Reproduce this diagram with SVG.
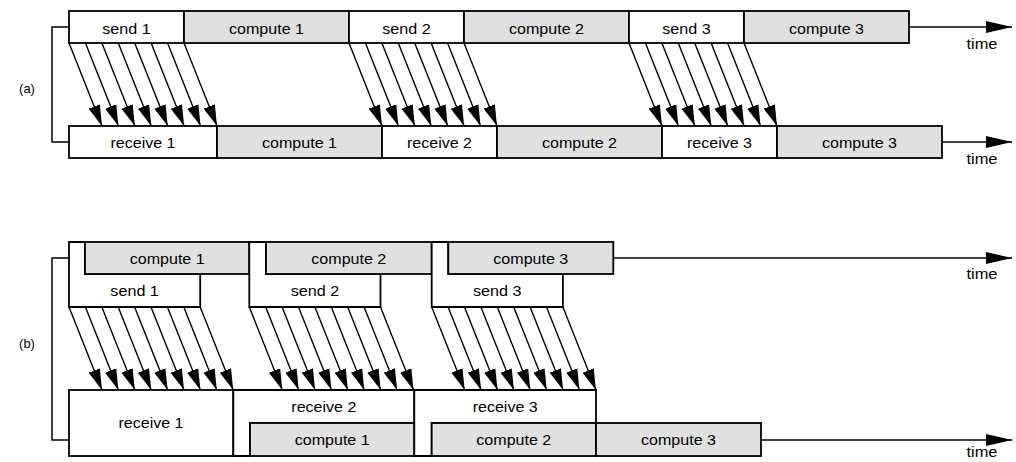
<svg xmlns="http://www.w3.org/2000/svg" width="1016" height="462" viewBox="0 0 1016 462">
<style>
.w{fill:#fff;stroke:#000;stroke-width:1.8}
.g{fill:#e0e0e0;stroke:#000;stroke-width:1.8}
.t{font-family:"Liberation Sans",Arial,sans-serif;font-size:14px;fill:#000;text-anchor:middle}
.lab{font-family:"Liberation Sans",Arial,sans-serif;font-size:13px;fill:#000;text-anchor:middle}
.msg{stroke:#000;stroke-width:1.4;fill:none;marker-end:url(#ah)}
.axis{stroke:#000;stroke-width:1.5;fill:none;marker-end:url(#big)}
.br{stroke:#000;stroke-width:1.5;fill:none}
</style>
<defs>
<marker id="ah" markerUnits="userSpaceOnUse" markerWidth="21" markerHeight="13" refX="21" refY="6.5" orient="auto" viewBox="0 0 21 13"><path d="M0,0.5 L21,6.5 L0,12.5 Z" fill="#000"/></marker>
<marker id="big" markerUnits="userSpaceOnUse" markerWidth="26" markerHeight="12" refX="26" refY="6" orient="auto" viewBox="0 0 26 12"><path d="M0,0 L26,6 L0,12 Z" fill="#000"/></marker>
</defs>
<rect width="1016" height="462" fill="#fff"/>

<!-- Part (a) -->
<text class="lab" x="27" y="93">(a)</text>
<g id="connectors">
<path class="br" d="M69,27 H52 V142 H69"/>
<path class="br" d="M69,258 H52 V440 H69"/>
<line class="axis" x1="909" y1="27" x2="1012" y2="27"/>
<line class="axis" x1="942" y1="142" x2="1012" y2="142"/>
<line class="axis" x1="613" y1="258" x2="1012" y2="258"/>
<line class="axis" x1="761" y1="440" x2="1012" y2="440"/>
<!-- (a) group 1 -->
<line class="msg" x1="69" y1="43" x2="102" y2="126"/>
<line class="msg" x1="85.43" y1="43" x2="118.43" y2="126"/>
<line class="msg" x1="101.86" y1="43" x2="134.86" y2="126"/>
<line class="msg" x1="118.29" y1="43" x2="151.29" y2="126"/>
<line class="msg" x1="134.71" y1="43" x2="167.71" y2="126"/>
<line class="msg" x1="151.14" y1="43" x2="184.14" y2="126"/>
<line class="msg" x1="167.57" y1="43" x2="200.57" y2="126"/>
<line class="msg" x1="184" y1="43" x2="217" y2="126"/>
<!-- (a) group 2 -->
<line class="msg" x1="349" y1="43" x2="382" y2="126"/>
<line class="msg" x1="365.43" y1="43" x2="398.43" y2="126"/>
<line class="msg" x1="381.86" y1="43" x2="414.86" y2="126"/>
<line class="msg" x1="398.29" y1="43" x2="431.29" y2="126"/>
<line class="msg" x1="414.71" y1="43" x2="447.71" y2="126"/>
<line class="msg" x1="431.14" y1="43" x2="464.14" y2="126"/>
<line class="msg" x1="447.57" y1="43" x2="480.57" y2="126"/>
<line class="msg" x1="464" y1="43" x2="497" y2="126"/>
<!-- (a) group 3 -->
<line class="msg" x1="629" y1="43" x2="662" y2="126"/>
<line class="msg" x1="645.43" y1="43" x2="678.43" y2="126"/>
<line class="msg" x1="661.86" y1="43" x2="694.86" y2="126"/>
<line class="msg" x1="678.29" y1="43" x2="711.29" y2="126"/>
<line class="msg" x1="694.71" y1="43" x2="727.71" y2="126"/>
<line class="msg" x1="711.14" y1="43" x2="744.14" y2="126"/>
<line class="msg" x1="727.57" y1="43" x2="760.57" y2="126"/>
<line class="msg" x1="744" y1="43" x2="777" y2="126"/>
<!-- (b) group 1 -->
<line class="msg" x1="69" y1="307" x2="102" y2="390"/>
<line class="msg" x1="85.4" y1="307" x2="118.4" y2="390"/>
<line class="msg" x1="101.8" y1="307" x2="134.8" y2="390"/>
<line class="msg" x1="118.2" y1="307" x2="151.2" y2="390"/>
<line class="msg" x1="134.6" y1="307" x2="167.6" y2="390"/>
<line class="msg" x1="151" y1="307" x2="184" y2="390"/>
<line class="msg" x1="167.4" y1="307" x2="200.4" y2="390"/>
<line class="msg" x1="183.8" y1="307" x2="216.8" y2="390"/>
<line class="msg" x1="200.2" y1="307" x2="233.2" y2="390"/>
<!-- (b) group 2 -->
<line class="msg" x1="249.3" y1="307" x2="282.3" y2="390"/>
<line class="msg" x1="265.7" y1="307" x2="298.7" y2="390"/>
<line class="msg" x1="282.1" y1="307" x2="315.1" y2="390"/>
<line class="msg" x1="298.5" y1="307" x2="331.5" y2="390"/>
<line class="msg" x1="314.9" y1="307" x2="347.9" y2="390"/>
<line class="msg" x1="331.3" y1="307" x2="364.3" y2="390"/>
<line class="msg" x1="347.7" y1="307" x2="380.7" y2="390"/>
<line class="msg" x1="364.1" y1="307" x2="397.1" y2="390"/>
<line class="msg" x1="380.5" y1="307" x2="413.5" y2="390"/>
<!-- (b) group 3 -->
<line class="msg" x1="431.7" y1="307" x2="464.7" y2="390"/>
<line class="msg" x1="448.1" y1="307" x2="481.1" y2="390"/>
<line class="msg" x1="464.5" y1="307" x2="497.5" y2="390"/>
<line class="msg" x1="480.9" y1="307" x2="513.9" y2="390"/>
<line class="msg" x1="497.3" y1="307" x2="530.3" y2="390"/>
<line class="msg" x1="513.7" y1="307" x2="546.7" y2="390"/>
<line class="msg" x1="530.1" y1="307" x2="563.1" y2="390"/>
<line class="msg" x1="546.5" y1="307" x2="579.5" y2="390"/>
<line class="msg" x1="562.9" y1="307" x2="595.9" y2="390"/>
</g>

<g id="a-send1"><rect class="w" x="69" y="11" width="115" height="32"/><text class="t" x="126.5" y="34" textLength="48.5" lengthAdjust="spacingAndGlyphs">send 1</text></g>
<g id="a-compute1"><rect class="g" x="184" y="11" width="165" height="32"/><text class="t" x="266.5" y="34" textLength="75" lengthAdjust="spacingAndGlyphs">compute 1</text></g>
<g id="a-send2"><rect class="w" x="349" y="11" width="115" height="32"/><text class="t" x="406.5" y="34" textLength="48.5" lengthAdjust="spacingAndGlyphs">send 2</text></g>
<g id="a-compute2"><rect class="g" x="464" y="11" width="165" height="32"/><text class="t" x="546.5" y="34" textLength="75" lengthAdjust="spacingAndGlyphs">compute 2</text></g>
<g id="a-send3"><rect class="w" x="629" y="11" width="115" height="32"/><text class="t" x="686.5" y="34" textLength="48.5" lengthAdjust="spacingAndGlyphs">send 3</text></g>
<g id="a-compute3"><rect class="g" x="744" y="11" width="165" height="32"/><text class="t" x="826.5" y="34" textLength="75" lengthAdjust="spacingAndGlyphs">compute 3</text></g>
<g id="a-time1"><text class="t" x="982" y="49" textLength="31" lengthAdjust="spacingAndGlyphs">time</text></g>

<g id="a-receive1"><rect class="w" x="69" y="126" width="148" height="32"/><text class="t" x="143" y="148" textLength="65" lengthAdjust="spacingAndGlyphs">receive 1</text></g>
<g id="a-rcompute1"><rect class="g" x="217" y="126" width="165" height="32"/><text class="t" x="299.5" y="148" textLength="75" lengthAdjust="spacingAndGlyphs">compute 1</text></g>
<g id="a-receive2"><rect class="w" x="382" y="126" width="115" height="32"/><text class="t" x="439.5" y="148" textLength="65" lengthAdjust="spacingAndGlyphs">receive 2</text></g>
<g id="a-rcompute2"><rect class="g" x="497" y="126" width="165" height="32"/><text class="t" x="579.5" y="148" textLength="75" lengthAdjust="spacingAndGlyphs">compute 2</text></g>
<g id="a-receive3"><rect class="w" x="662" y="126" width="115" height="32"/><text class="t" x="719.5" y="148" textLength="65" lengthAdjust="spacingAndGlyphs">receive 3</text></g>
<g id="a-rcompute3"><rect class="g" x="777" y="126" width="165" height="32"/><text class="t" x="859.5" y="148" textLength="75" lengthAdjust="spacingAndGlyphs">compute 3</text></g>
<g id="a-time2"><text class="t" x="982" y="164" textLength="31" lengthAdjust="spacingAndGlyphs">time</text></g>

<!-- Part (b) -->
<text class="lab" x="27" y="348">(b)</text>
<g id="b-send1"><path class="w" d="M69,242 H85 V274 H200.2 V307 H69 Z"/><text class="t" x="134.6" y="296" textLength="48.5" lengthAdjust="spacingAndGlyphs">send 1</text></g>
<g id="b-compute1"><rect class="g" x="85" y="242" width="164.3" height="32"/><text class="t" x="167.2" y="264" textLength="75" lengthAdjust="spacingAndGlyphs">compute 1</text></g>
<g id="b-send2"><path class="w" d="M249.3,242 H266 V274 H380.5 V307 H249.3 Z"/><text class="t" x="314.9" y="296" textLength="48.5" lengthAdjust="spacingAndGlyphs">send 2</text></g>
<g id="b-compute2"><rect class="g" x="266" y="242" width="165.7" height="32"/><text class="t" x="348.8" y="264" textLength="75" lengthAdjust="spacingAndGlyphs">compute 2</text></g>
<g id="b-send3"><path class="w" d="M431.7,242 H448.3 V274 H562.9 V307 H431.7 Z"/><text class="t" x="497.3" y="296" textLength="48.5" lengthAdjust="spacingAndGlyphs">send 3</text></g>
<g id="b-compute3"><rect class="g" x="448.3" y="242" width="165" height="32"/><text class="t" x="530.8" y="264" textLength="75" lengthAdjust="spacingAndGlyphs">compute 3</text></g>
<g id="b-time1"><text class="t" x="982" y="279" textLength="31" lengthAdjust="spacingAndGlyphs">time</text></g>

<g id="b-receive1"><rect class="w" x="69" y="390" width="164.3" height="66"/><text class="t" x="151" y="428" textLength="65" lengthAdjust="spacingAndGlyphs">receive 1</text></g>
<g id="b-receive2"><path class="w" d="M233.3,390 H414.3 V423 H250 V456 H233.3 Z"/><text class="t" x="323.8" y="412" textLength="65" lengthAdjust="spacingAndGlyphs">receive 2</text></g>
<g id="b-rcompute1"><rect class="g" x="250" y="423" width="164.3" height="33"/><text class="t" x="332.2" y="445" textLength="75" lengthAdjust="spacingAndGlyphs">compute 1</text></g>
<g id="b-receive3"><path class="w" d="M414.3,390 H596 V423 H431.7 V456 H414.3 Z"/><text class="t" x="505.2" y="412" textLength="65" lengthAdjust="spacingAndGlyphs">receive 3</text></g>
<g id="b-rcompute2"><rect class="g" x="431.7" y="423" width="164.3" height="33"/><text class="t" x="513.8" y="445" textLength="75" lengthAdjust="spacingAndGlyphs">compute 2</text></g>
<g id="b-rcompute3"><rect class="g" x="596" y="423" width="165" height="33"/><text class="t" x="678.5" y="445" textLength="75" lengthAdjust="spacingAndGlyphs">compute 3</text></g>
<g id="b-time2"><text class="t" x="982" y="457" textLength="31" lengthAdjust="spacingAndGlyphs">time</text></g>
</svg>
